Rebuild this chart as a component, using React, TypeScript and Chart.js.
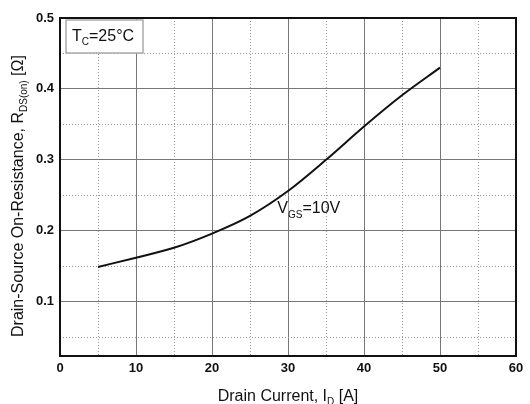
import React, { useEffect, useRef } from "react";
import { Chart, registerables } from "chart.js";

Chart.register(...registerables);

const drainCurrent = [5, 10, 15, 20, 25, 30, 35, 40, 45, 50];
const rdsOn = [0.149, 0.162, 0.176, 0.196, 0.221, 0.256, 0.3, 0.347, 0.391, 0.43];
const xMajorTicks = [0, 10, 20, 30, 40, 50, 60];
const xMinorTicks = [5, 15, 25, 35, 45, 55];
const yMajorTicks = [0.1, 0.2, 0.3, 0.4, 0.5];
const yMinorTicks = [0.05, 0.15, 0.25, 0.35, 0.45];

const FONT = "'Liberation Sans', Arial, sans-serif";

type Seg = { t: string; sub?: boolean };

function segWidth(ctx: CanvasRenderingContext2D, segs: Seg[], size: number, subSize: number) {
  let w = 0;
  for (const s of segs) {
    ctx.font = `${s.sub ? subSize : size}px ${FONT}`;
    w += ctx.measureText(s.t).width;
  }
  return w;
}

function drawSegs(
  ctx: CanvasRenderingContext2D,
  segs: Seg[],
  x: number,
  y: number,
  size: number,
  subSize: number,
  subShift: number
) {
  let cx = x;
  ctx.textBaseline = "alphabetic";
  ctx.textAlign = "left";
  for (const s of segs) {
    ctx.font = `${s.sub ? subSize : size}px ${FONT}`;
    ctx.fillText(s.t, cx, s.sub ? y + subShift : y);
    cx += ctx.measureText(s.t).width;
  }
}

const annotations = {
  id: "annotations",
  beforeDraw(chart: any) {
    const { ctx, width, height } = chart;
    ctx.save();
    ctx.fillStyle = "#ffffff";
    ctx.fillRect(0, 0, width, height);
    ctx.restore();
  },
  afterDatasetsDraw(chart: any) {
    const { ctx, chartArea } = chart;
    const xs = chart.scales.x;
    const ys = chart.scales.y;
    ctx.save();
    // frame
    ctx.strokeStyle = "#111";
    ctx.lineWidth = 2;
    ctx.strokeRect(chartArea.left, chartArea.top, chartArea.right - chartArea.left, chartArea.bottom - chartArea.top);

    // Tc box
    const bx = chartArea.left + 6;
    const by = chartArea.top + 2;
    ctx.fillStyle = "#fff";
    ctx.fillRect(bx, by, 77, 33);
    ctx.strokeStyle = "#aaa";
    ctx.lineWidth = 1.5;
    ctx.strokeRect(bx, by, 77, 33);
    ctx.fillStyle = "#111";
    drawSegs(ctx, [{ t: "T" }, { t: "C", sub: true }, { t: "=25°C" }], bx + 6, by + 21, 16, 10, 4);

    // VGS label
    const vx = xs.getPixelForValue(28.6);
    const vy = ys.getPixelForValue(0.225);
    const vSegs: Seg[] = [{ t: "V" }, { t: "GS", sub: true }, { t: "=10V" }];
    ctx.fillStyle = "#fff";
    ctx.fillRect(vx - 1, vy - 11, 12, 13);
    ctx.fillStyle = "#111";
    drawSegs(ctx, vSegs, vx, vy, 16, 10, 5);

    // x title
    const xt: Seg[] = [{ t: "Drain Current, I" }, { t: "D", sub: true }, { t: " [A]" }];
    const xw = segWidth(ctx, xt, 16, 10);
    drawSegs(ctx, xt, (chartArea.left + chartArea.right) / 2 - xw / 2, 401, 16, 10, 4);

    // y title
    const yt: Seg[] = [{ t: "Drain-Source On-Resistance, R" }, { t: "DS(on)", sub: true }, { t: " [Ω]" }];
    const yw = segWidth(ctx, yt, 16, 10);
    ctx.translate(23, 196);
    ctx.rotate(-Math.PI / 2);
    drawSegs(ctx, yt, -yw / 2, 0, 16, 10, 4);
    ctx.restore();
  },
};

export default function App() {
  const ref = useRef<HTMLCanvasElement | null>(null);

  useEffect(() => {
    document.body.style.margin = "0";
    if (!ref.current) return;
    const tickFont = { family: FONT, size: 13, weight: "bold" as const };
    const chart = new Chart(ref.current, {
      type: "line",
      data: {
        datasets: [
          {
            data: drainCurrent.map((x, i) => ({ x, y: rdsOn[i] })),
            borderColor: "#111",
            borderWidth: 2,
            pointRadius: 0,
            cubicInterpolationMode: "monotone",
            fill: false,
          },
        ],
      },
      options: {
        animation: false,
        responsive: true,
        maintainAspectRatio: false,
        layout: { padding: { left: 0, right: 14, top: 18, bottom: 0 } },
        plugins: { legend: { display: false }, tooltip: { enabled: false } },
        scales: {
          x: {
            type: "linear",
            position: "bottom",
            min: 0,
            max: 60,
            afterBuildTicks: (s: any) => {
              s.ticks = xMajorTicks.map((v) => ({ value: v }));
            },
            afterFit: (s: any) => {
              s.height = 48;
            },
            ticks: { color: "#111", font: tickFont, padding: 5, maxRotation: 0, callback: (v: any) => String(v) },
            grid: { color: "#777", lineWidth: 1, drawTicks: false },
            border: { display: false },
          },
          x2: {
            type: "linear",
            position: "top",
            min: 0,
            max: 60,
            afterBuildTicks: (s: any) => {
              s.ticks = xMinorTicks.map((v) => ({ value: v }));
            },
            afterFit: (s: any) => {
              s.height = 0;
            },
            ticks: { display: false },
            grid: { color: "#999", lineWidth: 1, drawTicks: false },
            border: { display: false, dash: [1, 2] },
          },
          y: {
            type: "linear",
            position: "left",
            min: 0.0234,
            max: 0.5,
            afterBuildTicks: (s: any) => {
              s.ticks = yMajorTicks.map((v) => ({ value: v }));
            },
            afterFit: (s: any) => {
              s.width = 60;
            },
            ticks: { color: "#111", font: tickFont, padding: 6, callback: (v: any) => Number(v).toFixed(1) },
            grid: { color: "#777", lineWidth: 1, drawTicks: false },
            border: { display: false },
          },
          y2: {
            type: "linear",
            position: "right",
            min: 0.0234,
            max: 0.5,
            afterBuildTicks: (s: any) => {
              s.ticks = yMinorTicks.map((v) => ({ value: v }));
            },
            afterFit: (s: any) => {
              s.width = 0;
            },
            ticks: { display: false },
            grid: { color: "#999", lineWidth: 1, drawTicks: false },
            border: { display: false, dash: [1, 2] },
          },
        },
      },
      plugins: [annotations],
    } as any);
    return () => chart.destroy();
  }, []);

  return (
    <div style={{ width: 530, height: 404, position: "relative" }}>
      <canvas ref={ref} />
    </div>
  );
}
